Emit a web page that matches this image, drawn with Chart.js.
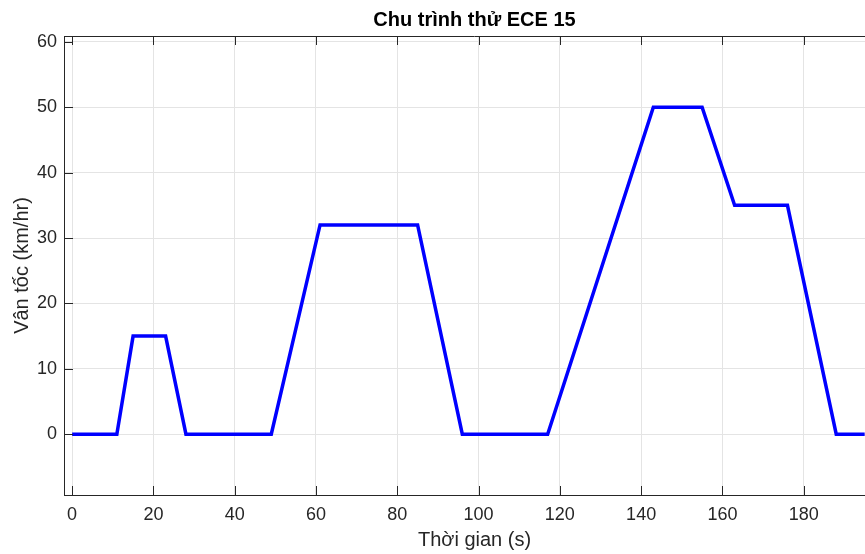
<!DOCTYPE html>
<html>
<head>
<meta charset="utf-8">
<title>Chu trình thử ECE 15</title>
<script src="https://cdn.jsdelivr.net/npm/chart.js@4/dist/chart.umd.min.js"></script>
<style>
  html, body { margin: 0; padding: 0; background: #fff; overflow: hidden; }
  #wrap { width: 885px; height: 554px; }
</style>
</head>
<body>
<div id="wrap"><canvas id="c" width="885" height="554"></canvas></div>
<script>
// ECE 15 elementary urban cycle: time (s) and speed (km/h) at each break point
const timeSec = [0, 11, 15, 23, 28, 49, 61, 85, 96, 117, 143, 155, 163, 176, 188, 195];
const speedKmh = [0, 0, 15, 15, 0, 0, 32, 32, 0, 0, 50, 50, 35, 35, 0, 0];

// Axis tick values
const xTickValues = [0, 20, 40, 60, 80, 100, 120, 140, 160, 180];
const yTickValues = [0, 10, 20, 30, 40, 50, 60];

const AXIS_COLOR = '#262626';
const GRID_COLOR = '#e4e4e4';
const FONT = '"Liberation Sans", Arial, Helvetica, sans-serif';

const points = timeSec.map((t, i) => ({ x: t, y: speedKmh[i] }));

// Inward tick marks and the top/right frame of the axes box
const boxTicks = {
  id: 'boxTicks',
  afterDatasetsDraw(chart) {
    const { ctx, chartArea: a, scales: { x, y } } = chart;
    const len = 9;
    ctx.save();
    ctx.strokeStyle = AXIS_COLOR;
    ctx.lineWidth = 1;
    ctx.beginPath();
    const top = Math.round(a.top) + 0.5;
    const right = Math.round(a.right) - 0.5;
    ctx.moveTo(a.left, top); ctx.lineTo(a.right, top);
    ctx.moveTo(right, a.top); ctx.lineTo(right, a.bottom);
    x.ticks.forEach(t => {
      const px = Math.round(x.getPixelForValue(t.value)) + 0.5;
      ctx.moveTo(px, a.bottom); ctx.lineTo(px, a.bottom - len);
      ctx.moveTo(px, a.top); ctx.lineTo(px, a.top + len);
    });
    y.ticks.forEach(t => {
      const py = Math.round(y.getPixelForValue(t.value)) + 0.5;
      ctx.moveTo(a.left, py); ctx.lineTo(a.left + len, py);
      ctx.moveTo(a.right, py); ctx.lineTo(a.right - len, py);
    });
    ctx.stroke();
    ctx.restore();
  }
};

new Chart(document.getElementById('c'), {
  type: 'line',
  data: {
    datasets: [{
      data: points,
      borderColor: '#0000ff',
      borderWidth: 3.5,
      borderCapStyle: 'butt',
      borderJoinStyle: 'miter',
      pointRadius: 0,
      fill: false,
      tension: 0
    }]
  },
  options: {
    responsive: false,
    animation: false,
    devicePixelRatio: 1,
    layout: { padding: 0 },
    plugins: {
      legend: { display: false },
      tooltip: { enabled: false },
      title: {
        display: true,
        text: 'Chu trình thử ECE 15',
        color: '#000',
        fullSize: false,
        font: { family: FONT, size: 20, weight: 'bold' },
        padding: { top: 8, bottom: 4 }
      }
    },
    scales: {
      x: {
        type: 'linear',
        min: -2,
        max: 200,
        afterFit(scale) { scale.height = 59; },
        afterBuildTicks(scale) { scale.ticks = xTickValues.map(v => ({ value: v })); },
        ticks: {
          color: AXIS_COLOR,
          padding: 9,
          maxRotation: 0,
          autoSkip: false,
          font: { family: FONT, size: 18 },
          callback: v => String(v)
        },
        grid: { color: GRID_COLOR, lineWidth: 1, drawTicks: false },
        border: { display: true, color: AXIS_COLOR, width: 1 },
        title: {
          display: true,
          text: 'Thời gian (s)',
          color: AXIS_COLOR,
          font: { family: FONT, size: 20 },
          padding: { top: 0, bottom: 2 }
        }
      },
      y: {
        type: 'linear',
        min: -9.3,
        max: 60.9,
        afterFit(scale) { scale.width = 64; },
        afterBuildTicks(scale) { scale.ticks = yTickValues.map(v => ({ value: v })); },
        ticks: {
          color: AXIS_COLOR,
          padding: 7,
          font: { family: FONT, size: 18 },
          callback: v => String(v)
        },
        grid: { color: GRID_COLOR, lineWidth: 1, drawTicks: false },
        border: { display: true, color: AXIS_COLOR, width: 1 },
        title: {
          display: true,
          text: 'Vân tốc (km/hr)',
          color: AXIS_COLOR,
          font: { family: FONT, size: 20 },
          padding: { top: 10, bottom: 0 }
        }
      }
    }
  },
  plugins: [boxTicks]
});
</script>
</body>
</html>
